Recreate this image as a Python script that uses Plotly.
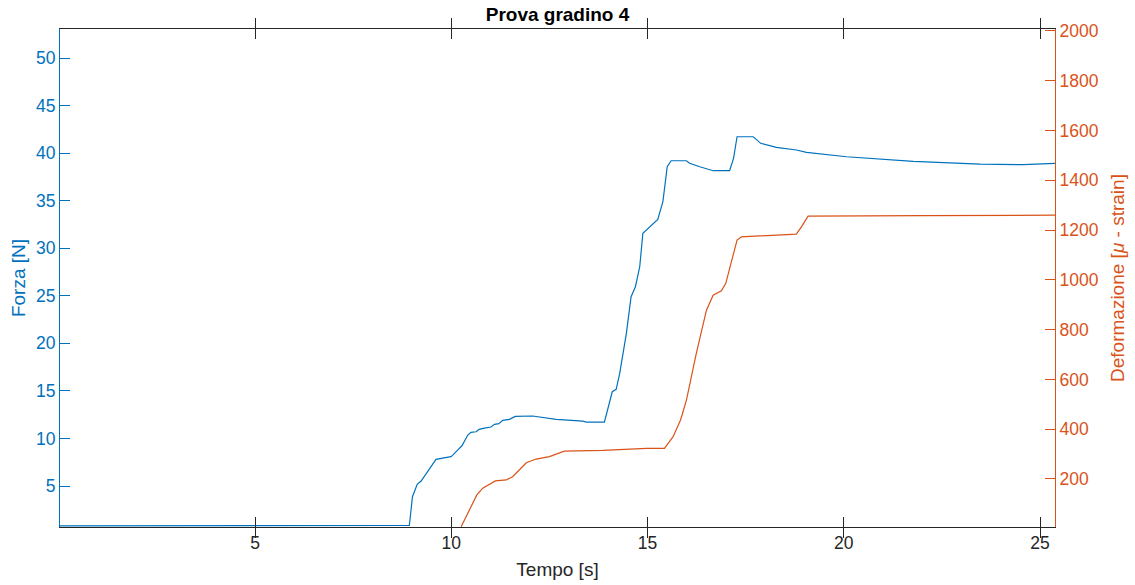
import plotly.graph_objects as go

# Force (blue) series
t_force = [0.0, 4.0, 8.93, 9.01, 9.13, 9.23, 9.61, 9.99, 10.03, 10.16, 10.27, 10.42, 10.50,
           10.63, 10.71, 10.84, 11.01, 11.10, 11.21, 11.31, 11.48, 11.63, 12.07, 12.67,
           13.35, 13.44, 13.90, 14.10, 14.20, 14.29, 14.37, 14.46, 14.58, 14.69, 14.80,
           14.88, 15.26, 15.39, 15.50, 15.60, 15.99, 16.07, 16.33, 16.67, 17.09, 17.19,
           17.28, 17.69, 17.77, 17.88, 18.28, 18.79, 19.05, 19.90, 20.07, 21.77, 23.47,
           24.57, 25.38]
forza = [0.80, 0.82, 0.85, 3.87, 5.17, 5.52, 7.80, 8.08, 8.22, 8.78, 9.23, 10.36, 10.64,
         10.70, 10.96, 11.09, 11.20, 11.48, 11.55, 11.90, 12.01, 12.32, 12.36, 12.01,
         11.83, 11.72, 11.72, 14.91, 15.16, 16.85, 18.95, 21.05, 24.90, 25.95, 28.05,
         31.57, 33.04, 34.89, 38.57, 39.20, 39.20, 38.93, 38.57, 38.15, 38.15, 39.45,
         41.72, 41.72, 41.45, 41.03, 40.61, 40.33, 40.08, 39.70, 39.62, 39.14, 38.85,
         38.78, 38.93]

# Strain (orange) series
t_def = [10.25, 10.46, 10.65, 10.80, 11.12, 11.40, 11.56, 11.91, 12.16, 12.50, 12.88,
         13.86, 14.97, 15.43, 15.65, 15.84, 15.99, 16.24, 16.50, 16.67, 16.88, 16.99,
         17.18, 17.28, 17.39, 18.79, 18.92, 19.09, 22.0, 25.38]
deformazione = [8, 75, 136, 163, 192, 196, 209, 265, 280, 290, 312, 315, 323, 323, 370,
                437, 517, 704, 878, 938, 956, 985, 1106, 1160, 1173, 1184, 1213, 1256,
                1258, 1260]

x_ticks = [5, 10, 15, 20, 25]
y_left_ticks = [5, 10, 15, 20, 25, 30, 35, 40, 45, 50]
y_right_ticks = [200, 400, 600, 800, 1000, 1200, 1400, 1600, 1800, 2000]

BLUE = "#0072BD"
ORANGE = "#D95319"
DARK = "#262626"
FONT = "Arial, Liberation Sans, Helvetica, sans-serif"

fig = go.Figure()
fig.add_trace(go.Scatter(x=t_force, y=forza, mode="lines",
                         line=dict(color=BLUE, width=1.2), yaxis="y", showlegend=False))
fig.add_trace(go.Scatter(x=t_def, y=deformazione, mode="lines",
                         line=dict(color=ORANGE, width=1.2), yaxis="y2", showlegend=False))

fig.update_layout(
    width=1135, height=585,
    margin=dict(l=60, r=80, t=29, b=58),
    paper_bgcolor="white", plot_bgcolor="white",
    font=dict(family=FONT, size=17, color=DARK),
    title=dict(text="<b>Prova gradino 4</b>", x=0.4912, xanchor="center",
               y=1 - 14 / 585, yanchor="middle", yref="container",
               font=dict(size=19, color="black")),
    xaxis=dict(range=[0.03, 25.38], tickvals=x_ticks, ticks="inside", ticklen=10,
               tickcolor=DARK, showline=True, linecolor=DARK, linewidth=1,
               mirror="allticks", showgrid=False, zeroline=False, automargin=False,
               title=dict(text="Tempo [s]", font=dict(size=19, color=DARK), standoff=10),
               tickfont=dict(size=17.5, color=DARK)),
    yaxis=dict(range=[0.69, 53.05], tickvals=y_left_ticks, ticks="inside", ticklen=10,
               tickcolor=BLUE, showline=True, linecolor=BLUE, linewidth=1,
               showgrid=False, zeroline=False, automargin=False,
               title=dict(text="Forza [N]", font=dict(size=19, color=BLUE), standoff=5),
               tickfont=dict(size=17.5, color=BLUE)),
    yaxis2=dict(range=[7, 2008], tickvals=y_right_ticks, ticks="inside", ticklen=10,
                tickcolor=ORANGE, showline=True, linecolor=ORANGE, linewidth=1,
                overlaying="y", side="right", showgrid=False, zeroline=False,
                automargin=False,
                title=dict(text="Deformazione [<i>μ</i> - strain]",
                           font=dict(size=19, color=ORANGE), standoff=13),
                tickfont=dict(size=17.5, color=ORANGE)),
)

fig.write_html("out.html")
